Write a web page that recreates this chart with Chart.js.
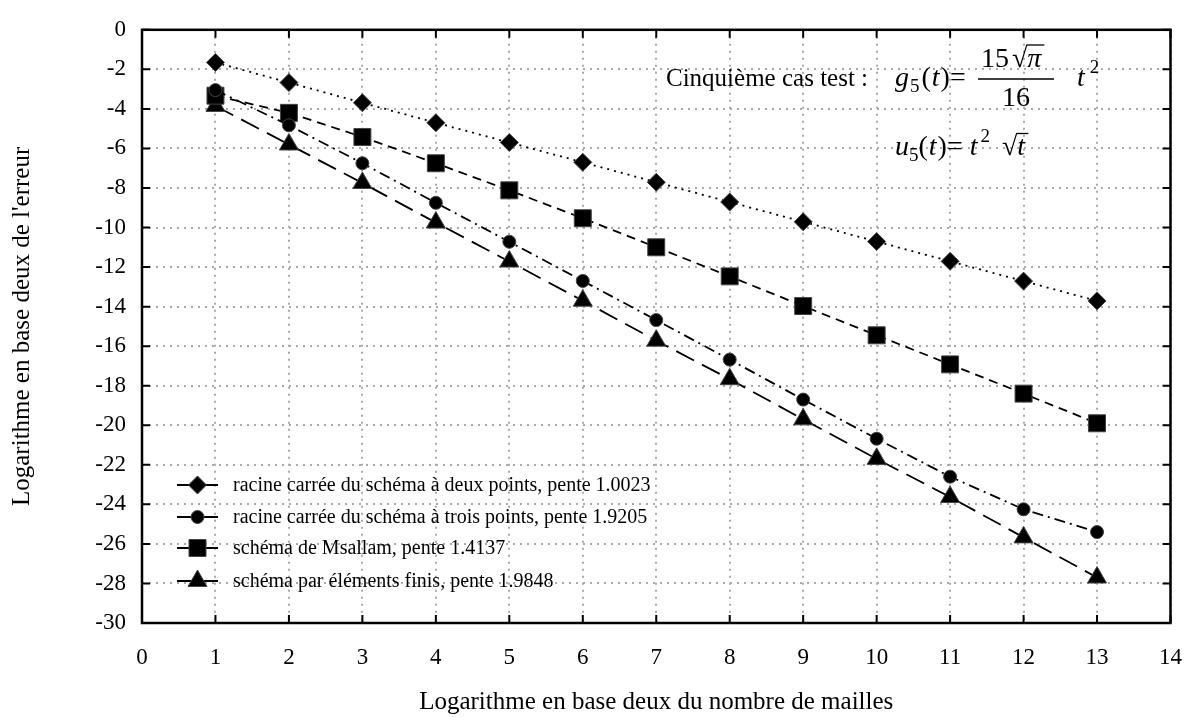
<!DOCTYPE html>
<html>
<head>
<meta charset="utf-8">
<script src="https://cdn.jsdelivr.net/npm/chart.js@4/dist/chart.umd.min.js"></script>
<style>
  html, body { margin: 0; padding: 0; background: #fff; }
  #wrap { width: 1203px; height: 717px; }
</style>
</head>
<body>
<div id="wrap"><canvas id="errChart"></canvas></div>
<script>
// log2 du nombre de mailles
const meshLog = [1, 2, 3, 4, 5, 6, 7, 8, 9, 10, 11, 12, 13];

// log2 de l'erreur
const deuxPoints    = [-1.65, -2.67, -3.69, -4.70, -5.70, -6.70, -7.71, -8.71, -9.71, -10.71, -11.71, -12.71, -13.71];
const troisPoints   = [-3.05, -4.83, -6.75, -8.75, -10.72, -12.70, -14.68, -16.68, -18.70, -20.68, -22.60, -24.25, -25.40];
const msallam       = [-3.33, -4.20, -5.42, -6.75, -8.12, -9.53, -11.00, -12.47, -13.97, -15.45, -16.92, -18.40, -19.90];
const elementsFinis = [-3.85, -5.80, -7.75, -9.75, -11.72, -13.70, -15.72, -17.67, -19.70, -21.70, -23.63, -25.67, -27.70];

const seriesLabels = [
  "racine carrée du schéma à deux points, pente 1.0023",
  "racine carrée du schéma à trois points, pente 1.9205",
  "schéma de Msallam, pente 1.4137",
  "schéma par éléments finis, pente 1.9848"
];

const xTicks = [0, 1, 2, 3, 4, 5, 6, 7, 8, 9, 10, 11, 12, 13, 14];
const yTicks = [0, -2, -4, -6, -8, -10, -12, -14, -16, -18, -20, -22, -24, -26, -28, -30];

const FONT = '"Liberation Serif", "Times New Roman", serif';

function pts(ys) {
  return ys.map((y, i) => ({ x: meshLog[i], y }));
}

function makeSet(label, ys, style, radius, dash) {
  return {
    label,
    data: pts(ys),
    showLine: true,
    borderColor: '#000',
    borderWidth: 1.8,
    borderDash: dash,
    pointStyle: style,
    pointRadius: radius,
    pointHoverRadius: radius,
    pointBackgroundColor: '#000',
    pointBorderColor: '#444',
    pointBorderWidth: 1,
    fill: false
  };
}

// cadre, graduations intérieures, légende et formule
const decorPlugin = {
  id: 'decor',
  afterDraw(chart) {
    const ctx = chart.ctx;
    const a = chart.chartArea;
    const xs = chart.scales.x, ys = chart.scales.y;
    ctx.save();

    // graduations vers l'intérieur
    ctx.strokeStyle = '#000';
    ctx.lineWidth = 2;
    ctx.setLineDash([]);
    ctx.beginPath();
    xTicks.forEach(v => {
      const px = xs.getPixelForValue(v);
      ctx.moveTo(px, a.bottom); ctx.lineTo(px, a.bottom - 8);
      ctx.moveTo(px, a.top); ctx.lineTo(px, a.top + 8);
    });
    yTicks.forEach(v => {
      const py = ys.getPixelForValue(v);
      ctx.moveTo(a.left, py); ctx.lineTo(a.left + 8, py);
      ctx.moveTo(a.right, py); ctx.lineTo(a.right - 8, py);
    });
    ctx.stroke();

    ctx.lineWidth = 2.5;
    ctx.strokeRect(a.left, a.top, a.right - a.left, a.bottom - a.top);

    // légende
    const lx = a.left + 35;
    const rowY = [a.bottom - 138, a.bottom - 106, a.bottom - 75, a.bottom - 42];
    ctx.font = '20px ' + FONT;
    ctx.textBaseline = 'middle';
    ctx.textAlign = 'left';
    chart.data.datasets.forEach((ds, i) => {
      const y = rowY[i];
      ctx.strokeStyle = '#000';
      ctx.lineWidth = 1.8;
      ctx.setLineDash([]);
      ctx.beginPath();
      ctx.moveTo(lx, y); ctx.lineTo(lx + 41, y);
      ctx.stroke();
      ctx.fillStyle = '#000';
      ctx.strokeStyle = '#444';
      ctx.lineWidth = 1;
      Chart.helpers.drawPoint(ctx, {
        pointStyle: ds.pointStyle, radius: ds.pointRadius, rotation: 0, borderWidth: 1
      }, lx + 20.5, y);
      ctx.fillStyle = '#000';
      ctx.fillText(ds.label, lx + 56, y + 1);
    });

    // formule
    ctx.textBaseline = 'alphabetic';
    ctx.fillStyle = '#000';
    ctx.strokeStyle = '#000';
    ctx.font = '25px ' + FONT;
    ctx.fillText('Cinquième cas test :', 666, 86);

    const it = 'italic 28px ' + FONT;
    const up = '28px ' + FONT;
    const sm = '19px ' + FONT;
    function put(txt, font, x, y) {
      ctx.font = font;
      ctx.fillText(txt, x, y);
      return x + ctx.measureText(txt).width;
    }
    const b1 = 86;
    let x = 895;
    x = put('g', it, x, b1);
    x = put('5', sm, x + 1, b1 + 6);
    x = put('(', up, x + 2, b1);
    x = put('t', it, x + 1, b1);
    x = put(')', up, x + 1, b1);
    x = put('=', up, x, b1);
    // fraction
    ctx.lineWidth = 1.3;
    ctx.beginPath(); ctx.moveTo(978, 79); ctx.lineTo(1054, 79); ctx.stroke();
    let nx = put('15', up, 981, 67);
    nx = put('√', up, nx + 3, 67);
    ctx.beginPath(); ctx.moveTo(nx - 1, 45); ctx.lineTo(nx + 17, 45); ctx.stroke();
    put('π', it, nx, 67);
    put('16', up, 1002, 106);
    x = put('t', it, 1077, b1);
    put('2', sm, x + 5, b1 - 13);

    const b2 = 155;
    x = 895;
    x = put('u', it, x, b2);
    x = put('5', sm, x, b2 + 6);
    x = put('(', up, x, b2);
    x = put('t', it, x + 1, b2);
    x = put(')', up, x + 1, b2);
    x = put('=', up, x, b2);
    x = put('t', it, x + 7, b2);
    x = put('2', sm, x + 3, b2 - 13);
    x = put('√', up, x + 12, b2);
    ctx.beginPath(); ctx.moveTo(x - 1, 133.5); ctx.lineTo(x + 11, 133.5); ctx.stroke();
    put('t', it, x, b2);

    ctx.restore();
  }
};

const ctx = document.getElementById('errChart').getContext('2d');
const chart = new Chart(ctx, {
  type: 'scatter',
  data: {
    datasets: [
      makeSet(seriesLabels[0], deuxPoints, 'rectRot', 9, [2, 5]),
      makeSet(seriesLabels[1], troisPoints, 'circle', 6.5, [11, 5, 2, 5]),
      makeSet(seriesLabels[2], msallam, 'rect', 12, [9, 6]),
      makeSet(seriesLabels[3], elementsFinis, 'triangle', 11, [20, 9])
    ]
  },
  options: {
    responsive: true,
    maintainAspectRatio: false,
    animation: false,
    layout: { padding: { top: 22, right: 14, left: 0, bottom: 0 } },
    plugins: {
      legend: { display: false },
      tooltip: { enabled: false }
    },
    scales: {
      x: {
        type: 'linear',
        min: 0, max: 14,
        afterBuildTicks: s => { s.ticks = xTicks.map(v => ({ value: v })); },
        afterFit: s => { s.height = 94; },
        grid: { color: '#aaa', lineWidth: 2, drawTicks: false },
        border: { display: false, dash: [2, 5] },
        ticks: { color: '#000', padding: 21, font: { family: FONT, size: 23 } },
        title: {
          display: true,
          text: 'Logarithme en base deux du nombre de mailles',
          color: '#000',
          padding: { top: 0, bottom: 0 },
          font: { family: FONT, size: 25 }
        }
      },
      y: {
        type: 'linear',
        min: -30, max: 0,
        afterBuildTicks: s => { s.ticks = yTicks.map(v => ({ value: v })); },
        afterFit: s => { s.width = 142; },
        grid: { color: '#aaa', lineWidth: 2, drawTicks: false },
        border: { display: false, dash: [2, 5] },
        ticks: { color: '#000', padding: 16, font: { family: FONT, size: 23 } },
        title: {
          display: true,
          text: "Logarithme en base deux de l'erreur",
          color: '#000',
          padding: { top: 7, bottom: 0 },
          font: { family: FONT, size: 25 }
        }
      }
    }
  },
  plugins: [decorPlugin]
});
</script>
</body>
</html>
